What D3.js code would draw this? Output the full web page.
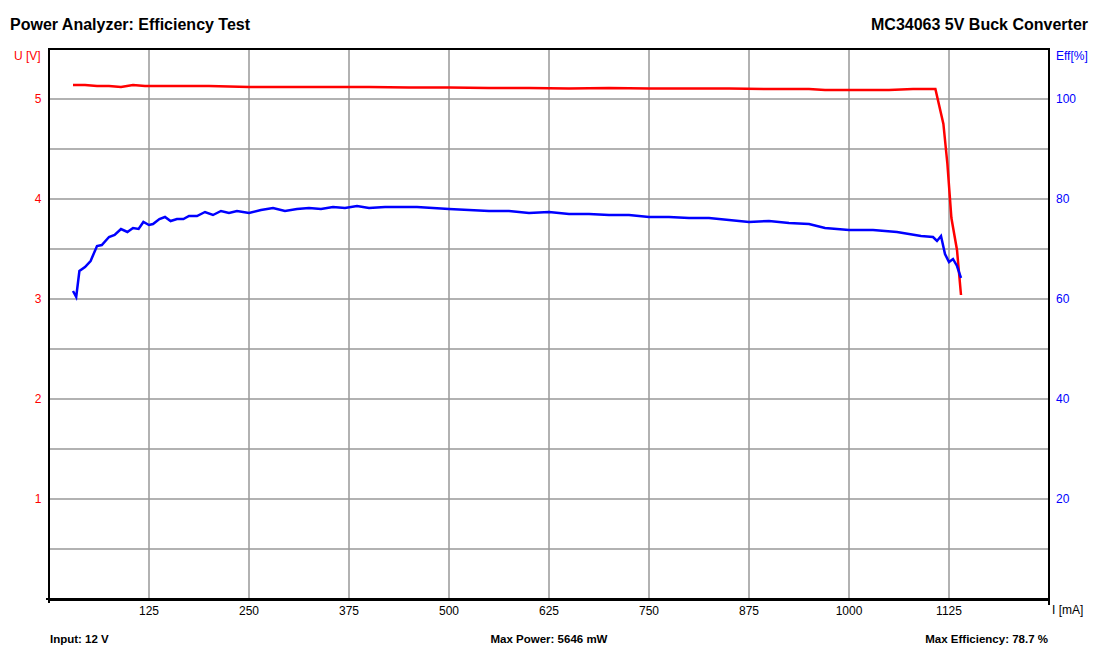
<!DOCTYPE html><html><head><meta charset="utf-8"><script src="https://cdn.jsdelivr.net/npm/d3@7"></script>
<style>body{margin:0;background:#fff;font-family:"Liberation Sans",Arial,sans-serif}</style></head><body><svg id="c" width="1100" height="661"></svg><script>
const voltCurrent=[30,45,60,75,90,105,120,150,200,250,300,350,400,450,500,550,600,650,700,750,800,850,900,950,970,1000,1050,1080,1108,1118,1123,1128,1135,1140];
const voltValues=[5.14,5.14,5.13,5.13,5.12,5.14,5.13,5.13,5.13,5.12,5.12,5.12,5.12,5.115,5.115,5.11,5.11,5.105,5.11,5.105,5.105,5.105,5.10,5.10,5.09,5.09,5.09,5.10,5.10,4.75,4.35,3.81,3.49,3.04];
const effCurrent=[30,34,38,45,52,60,66,75,82,90,98,105,112,118,125,130,138,145,152,160,168,175,185,195,205,215,225,235,250,265,280,295,310,325,340,355,370,385,400,420,440,460,480,500,525,550,575,600,625,650,675,700,725,750,775,800,825,850,875,900,925,950,970,1000,1030,1060,1090,1105,1110,1115,1120,1125,1130,1135,1140];
const effValues=[61.6,60.4,65.6,66.4,67.6,70.6,70.8,72.4,72.8,74.0,73.4,74.2,74.0,75.4,74.8,75.0,76.0,76.4,75.6,76.0,76.0,76.6,76.6,77.4,76.8,77.6,77.2,77.6,77.2,77.8,78.2,77.6,78.0,78.2,78.0,78.4,78.2,78.6,78.2,78.4,78.4,78.4,78.2,78.0,77.8,77.6,77.6,77.2,77.4,77.0,77.0,76.8,76.8,76.4,76.4,76.2,76.2,75.8,75.4,75.6,75.2,75.0,74.2,73.8,73.8,73.4,72.6,72.4,71.6,72.6,69.0,67.4,68.0,66.6,64.2];
const xTicks=[125,250,375,500,625,750,875,1000,1125];
const vTicks=[1,2,3,4,5], eTicks=[20,40,60,80,100];
const svg=d3.select("#c");
const L=49,R=1049,T=49,B=599;
const x=d3.scaleLinear([0,1250],[L,R]), yv=d3.scaleLinear([0,5.5],[B,T]), ye=d3.scaleLinear([0,110],[B,T]);
const g=svg.append("g");
for(const t of xTicks) g.append("line").attr("x1",x(t)).attr("x2",x(t)).attr("y1",T).attr("y2",B).attr("stroke","#999").attr("stroke-width",1.5);
for(let v=0.5;v<5.5;v+=0.5) g.append("line").attr("x1",L).attr("x2",R).attr("y1",yv(v)).attr("y2",yv(v)).attr("stroke","#999").attr("stroke-width",1.5);
svg.append("rect").attr("x",L).attr("y",T).attr("width",R-L).attr("height",B-T).attr("fill","none").attr("stroke","#000").attr("stroke-width",2);
svg.append("line").attr("x1",L).attr("x2",R).attr("y1",B+1).attr("y2",B+1).attr("stroke","#000").attr("stroke-width",2);
svg.append("line").attr("x1",46).attr("x2",49).attr("y1",B).attr("y2",B).attr("stroke","#000").attr("stroke-width",2);
svg.append("line").attr("x1",L).attr("x2",L).attr("y1",B).attr("y2",B+4).attr("stroke","#000").attr("stroke-width",2);
svg.append("line").attr("x1",R).attr("x2",R).attr("y1",B).attr("y2",B+6).attr("stroke","#000").attr("stroke-width",2);
const txt=(X,Y,s,c,a,w,fs)=>svg.append("text").attr("x",X).attr("y",Y).text(s).attr("fill",c).attr("text-anchor",a||"start").attr("font-weight",w||"normal").attr("font-size",fs||12);
for(const t of xTicks) txt(x(t),615,t,"#000","middle");
txt(1052,614,"I [mA]","#000");
for(const t of vTicks) txt(38,yv(t)+4,t,"#f00","middle");
txt(14,60,"U [V]","#f00");
for(const t of eTicks) txt(1056,ye(t)+4,t,"#00f");
txt(1056,60,"Eff[%]","#00f");
txt(10,30,"Power Analyzer: Efficiency Test","#000","start","bold",16);
txt(1088,30,"MC34063 5V Buck Converter","#000","end","bold",16);
txt(50,643,"Input: 12 V","#000","start","bold",11.5);
txt(549,643,"Max Power: 5646 mW","#000","middle","bold",11.5);
txt(1048,643,"Max Efficiency: 78.7 %","#000","end","bold",11.5);
const lv=d3.line().x((d,i)=>x(voltCurrent[i])).y(d=>yv(d));
svg.append("path").attr("d",lv(voltValues)).attr("fill","none").attr("stroke","#f00").attr("stroke-width",2.5);
const le=d3.line().x((d,i)=>x(effCurrent[i])).y(d=>ye(d));
svg.append("path").attr("d",le(effValues)).attr("fill","none").attr("stroke","#00f").attr("stroke-width",2.5);
</script></body></html>
